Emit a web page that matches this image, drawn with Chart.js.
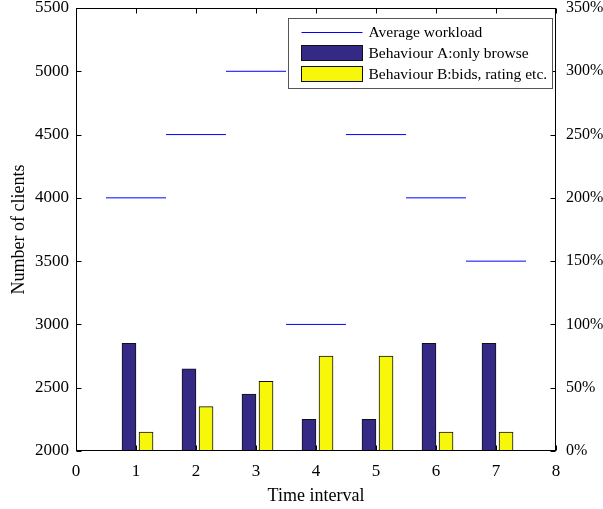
<!DOCTYPE html>
<html>
<head>
<meta charset="utf-8">
<script src="https://cdn.jsdelivr.net/npm/chart.js@4.4.0/dist/chart.umd.min.js"></script>
<style>
html, body { margin: 0; padding: 0; background: #fff; }
#wrap { width: 603px; height: 509px; position: relative; }
</style>
</head>
<body>
<div id="wrap"><canvas id="chart"></canvas></div>
<script>
// data
const intervals = [1, 2, 3, 4, 5, 6, 7];
const workload = [4000, 4500, 5000, 3000, 4500, 4000, 3500];
const behaviourA = [85, 65, 45, 25, 25, 85, 85];
const behaviourB = [15, 35, 55, 75, 75, 15, 15];
const xTicks = [0, 1, 2, 3, 4, 5, 6, 7, 8];
const clientTicks = [2000, 2500, 3000, 3500, 4000, 4500, 5000, 5500];
const percentTicks = [0, 50, 100, 150, 200, 250, 300, 350];

const serif = 'Liberation Serif, Times New Roman, serif';
const tickFont = { family: serif, size: 17 };
const titleFont = { family: serif, size: 18 };
const colA = '#342a86';
const colB = '#f7f70c';

// one horizontal segment per interval, broken with nulls
const workloadPts = [];
intervals.forEach((t, i) => {
    workloadPts.push({ x: t - 0.5, y: workload[i] });
    workloadPts.push({ x: t + 0.5, y: workload[i] });
    workloadPts.push({ x: t + 0.5, y: null });
});

const setTicks = vals => scale => { scale.ticks = vals.map(v => ({ value: v })); };
const fixSize = (w, h) => s => {
    if (w) s.width = w;
    if (h) s.height = h;
    s.paddingTop = 0; s.paddingBottom = 0;
    s.paddingLeft = 0; s.paddingRight = 0;
};

// box, inward ticks and the legend
const frame = {
    id: 'frame',
    afterDatasetsDraw(chart) {
        const { ctx, chartArea: a, scales } = chart;
        const L = Math.round(a.left) + 0.5, R = Math.round(a.right) - 0.5;
        const T = Math.round(a.top) + 0.5, B = Math.round(a.bottom) - 0.5;
        ctx.save();
        ctx.strokeStyle = '#000';
        ctx.lineWidth = 1;
        ctx.beginPath();
        xTicks.forEach(v => {
            const px = Math.round(scales.x.getPixelForValue(v)) + 0.5;
            ctx.moveTo(px, B); ctx.lineTo(px, B - 5);
            ctx.moveTo(px, T); ctx.lineTo(px, T + 5);
        });
        clientTicks.forEach(v => {
            const py = Math.round(scales.y.getPixelForValue(v)) + 0.5;
            ctx.moveTo(L, py); ctx.lineTo(L + 5, py);
        });
        percentTicks.forEach(v => {
            const py = Math.round(scales.y2.getPixelForValue(v)) + 0.5;
            ctx.moveTo(R, py); ctx.lineTo(R - 5, py);
        });
        ctx.stroke();
        ctx.strokeRect(L, T, R - L, B - T);
        ctx.restore();
    },
    afterDraw(chart) {
        const { ctx, chartArea: a } = chart;
        const w = 264, h = 70;
        const x0 = Math.round(a.right) - 4 - w + 0.5, y0 = Math.round(a.top) + 10 + 0.5;
        ctx.save();
        ctx.fillStyle = '#fff';
        ctx.fillRect(x0, y0, w, h);
        ctx.strokeStyle = '#555';
        ctx.lineWidth = 1;
        ctx.strokeRect(x0, y0, w, h);
        const sx = x0 + 13, sw = 61, tx = x0 + 80;
        ctx.font = '15.5px ' + serif;
        ctx.textBaseline = 'middle';
        // line entry
        ctx.strokeStyle = '#0000ff';
        ctx.beginPath();
        ctx.moveTo(sx, y0 + 14); ctx.lineTo(sx + sw, y0 + 14);
        ctx.stroke();
        // bar entries
        ctx.strokeStyle = '#111';
        ctx.fillStyle = colA;
        ctx.fillRect(sx, y0 + 27, sw, 15);
        ctx.strokeRect(sx, y0 + 27, sw, 15);
        ctx.fillStyle = colB;
        ctx.fillRect(sx, y0 + 48, sw, 15);
        ctx.strokeRect(sx, y0 + 48, sw, 15);
        ctx.fillStyle = '#000';
        ctx.fillText('Average workload', tx, y0 + 14);
        ctx.fillText('Behaviour A:only browse', tx, y0 + 35);
        ctx.fillText('Behaviour B:bids, rating etc.', tx, y0 + 56);
        ctx.restore();
    }
};

const ctx = document.getElementById('chart').getContext('2d');
new Chart(ctx, {
    type: 'bar',
    data: {
        datasets: [{
            type: 'line',
            label: 'Average workload',
            data: workloadPts,
            yAxisID: 'y',
            borderColor: '#0000ff',
            borderWidth: 1,
            pointRadius: 0,
            spanGaps: false,
            fill: false,
            order: 0
        }, {
            label: 'Behaviour A:only browse',
            data: intervals.map((t, i) => ({ x: t - 0.117, y: behaviourA[i] })),
            yAxisID: 'y2',
            backgroundColor: colA,
            borderColor: '#111',
            borderWidth: 1,
            barThickness: 14,
            grouped: false,
            order: 1
        }, {
            label: 'Behaviour B:bids, rating etc.',
            data: intervals.map((t, i) => ({ x: t + 0.167, y: behaviourB[i] })),
            yAxisID: 'y2',
            backgroundColor: colB,
            borderColor: '#111',
            borderWidth: 1,
            barThickness: 14,
            grouped: false,
            order: 1
        }]
    },
    options: {
        responsive: true,
        maintainAspectRatio: false,
        animation: false,
        layout: { padding: { top: 8, left: 0, right: 0, bottom: 0 } },
        scales: {
            x: {
                type: 'linear', min: 0, max: 8, offset: false,
                afterBuildTicks: setTicks(xTicks),
                grid: { display: false, drawTicks: false }, border: { display: false },
                ticks: { font: tickFont, color: '#000', padding: 10, maxRotation: 0, callback: v => String(v) },
                title: { display: true, text: 'Time interval', font: titleFont, color: '#000', padding: { top: 0, bottom: 2 } },
                afterFit: fixSize(0, 58)
            },
            y: {
                type: 'linear', position: 'left', min: 2000, max: 5500,
                afterBuildTicks: setTicks(clientTicks),
                grid: { display: false, drawTicks: false }, border: { display: false },
                ticks: { font: tickFont, color: '#000', padding: 7, callback: v => String(v) },
                title: { display: true, text: 'Number of clients', font: titleFont, color: '#000', padding: { top: 8, bottom: 0 } },
                afterFit: fixSize(76, 0)
            },
            y2: {
                type: 'linear', position: 'right', min: 0, max: 350,
                afterBuildTicks: setTicks(percentTicks),
                grid: { display: false, drawTicks: false }, border: { display: false },
                ticks: { font: { family: serif, size: 16 }, color: '#000', padding: 10, callback: v => v + '%' },
                afterFit: fixSize(47, 0)
            }
        },
        plugins: {
            legend: { display: false },
            tooltip: { enabled: false }
        }
    },
    plugins: [frame]
});
</script>
</body>
</html>
